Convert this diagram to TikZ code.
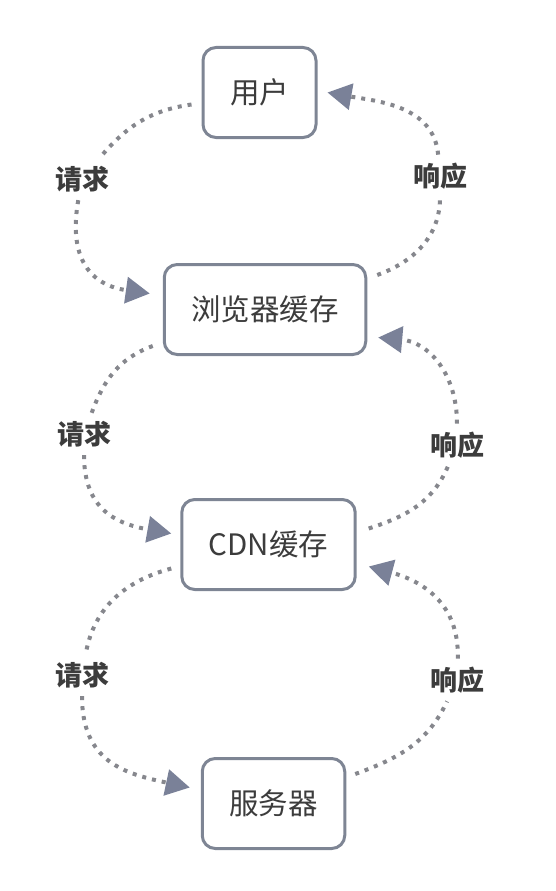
\documentclass[tikz,border=0pt]{standalone}
\usepackage{fontspec}
\setmainfont{Noto Sans CJK SC}
\usepackage{tikz}
\usetikzlibrary{arrows.meta, positioning}
\definecolor{boxline}{RGB}{126,133,148}
\definecolor{dotgray}{RGB}{134,135,141}
\definecolor{tipgray}{RGB}{122,129,152}
\definecolor{inkgray}{RGB}{60,60,60}

\begin{document}
\begin{tikzpicture}[
    x=1pt, y=1pt,
    hostbox/.style={rectangle, draw=boxline, line width=3pt, fill=white, rounded corners=13pt, minimum height=90pt, inner xsep=27pt, text=inkgray, font=\fontsize{29.5pt}{34pt}\selectfont},
    tag/.style={inner xsep=6pt, inner ysep=8pt, text=inkgray, font=\fontsize{27pt}{32pt}\selectfont\bfseries},
    flow/.style={draw=dotgray, line width=4pt, dash pattern=on 4pt off 6pt},
    arrow/.style={flow, -{Triangle[length=24pt, width=26pt, color=tipgray]}}
]
\useasboundingbox (0,0) rectangle (556,-891);

\node[hostbox] (user) at (259.5,-92.5) {用户};
\node[hostbox, below=124pt of user, xshift=5.5pt] (browser) {浏览器缓存};
\node[hostbox, below=142pt of browser, xshift=3.5pt] (cdn) {CDN缓存};
\node[hostbox, below=166pt of cdn, xshift=5pt] (server) {服务器};

\node[tag] (ask1) at (82,-179) {请求};
\node[tag] (reply1) at (440,-176) {响应};
\node[tag] (ask2) at (84,-434) {请求};
\node[tag] (reply2) at (457,-445) {响应};
\node[tag] (ask3) at (82,-675) {请求};
\node[tag] (reply3) at (457,-680) {响应};

\draw[flow] ([xshift=-10pt,yshift=-12pt]user.west) to[out=188, in=50] (ask1);
\draw[arrow] (ask1) to[out=-100, in=172, looseness=1.3] ([xshift=-13pt,yshift=16pt]browser.west);
\draw[flow] ([xshift=10pt,yshift=-12pt]browser.north east) to[out=20, in=-90] (reply1);
\draw[arrow] (reply1) to[out=95, in=-10] ([xshift=10pt]user.east);

\draw[flow] ([xshift=-10pt,yshift=10pt]browser.south west) to[out=200, in=70] (ask2);
\draw[arrow] (ask2) to[out=-90, in=170, looseness=1.2] ([xshift=-9pt,yshift=11pt]cdn.west);
\draw[flow] ([xshift=12pt,yshift=16pt]cdn.east) to[out=18, in=-113] (reply2);
\draw[arrow] (reply2) to[out=90, in=-5, looseness=1.1] ([xshift=11pt,yshift=-28pt]browser.east);

\draw[flow] ([xshift=-9pt,yshift=-24pt]cdn.west) to[out=195, in=80] (ask3);
\draw[arrow] (ask3) to[out=-90, in=168, looseness=1.2] ([xshift=-11pt,yshift=16pt]server.west);
\draw[flow] ([xshift=9pt,yshift=-17pt]server.north east) to[out=20, in=-115] (reply3);
\draw[arrow] (reply3) to[out=88, in=-15, looseness=1.1] ([xshift=12pt,yshift=-22pt]cdn.east);

\end{tikzpicture}
\end{document}
